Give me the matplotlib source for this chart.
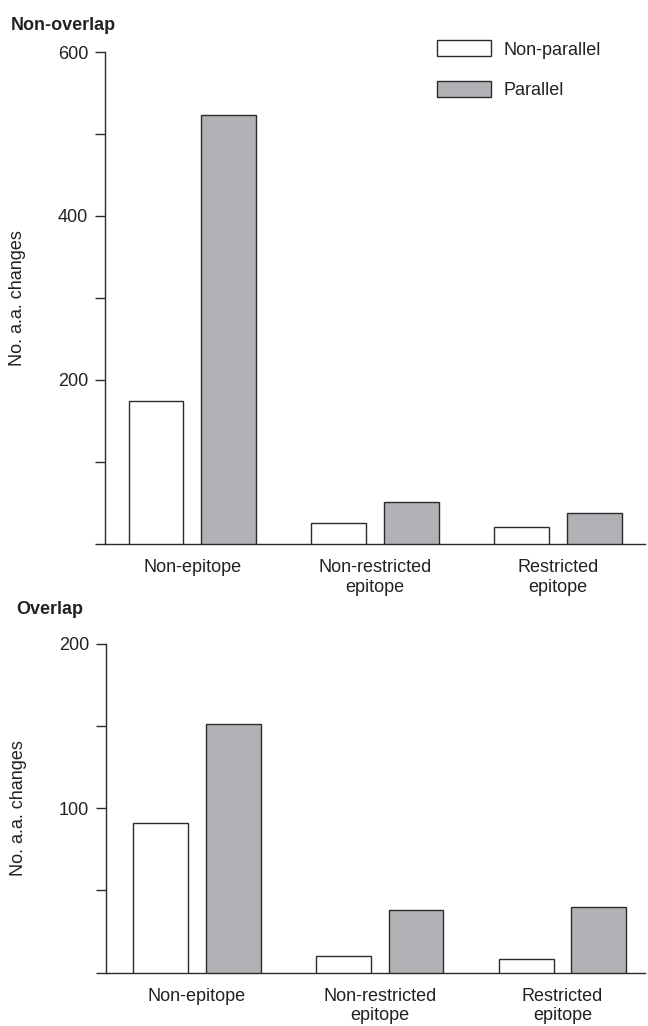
import matplotlib.pyplot as plt
import numpy as np

plt.rcParams["font.family"] = ["Liberation Sans", "DejaVu Sans"]

categories = ["Non-epitope", "Non-restricted\nepitope", "Restricted\nepitope"]
series_names = ["Non-parallel", "Parallel"]

# counts per panel: (non-parallel, parallel)
nonoverlap_nonparallel = [174, 25, 20]
nonoverlap_parallel = [523, 51, 38]
overlap_nonparallel = [91, 10, 8]
overlap_parallel = [151, 38, 40]

nonoverlap_ticks = [0, 100, 200, 300, 400, 500, 600]
nonoverlap_labels = ["", "", "200", "", "400", "", "600"]
overlap_ticks = [0, 50, 100, 150, 200]
overlap_labels = ["", "", "100", "", "200"]

EDGE = "#2b2b2b"
GREY = "#b1b2b5"
FS = 13

fig = plt.figure(figsize=(6.48, 10.26), dpi=100)
ax_top = fig.add_axes([0.162, 0.4701, 0.833, 0.4792])
ax_bot = fig.add_axes([0.163, 0.0521, 0.832, 0.3205])

x = np.arange(len(categories))
width = 0.30
offset = 0.198


def draw_panel(ax, np_vals, p_vals, ymax, ticks, labels, xlim):
    ax.bar(x - offset, np_vals, width, color="white", edgecolor=EDGE,
           linewidth=1.0, label=series_names[0], zorder=3)
    ax.bar(x + offset, p_vals, width, color=GREY, edgecolor=EDGE,
           linewidth=1.0, label=series_names[1], zorder=3)
    ax.set_ylim(0, ymax)
    ax.set_xlim(*xlim)
    ax.set_yticks(ticks)
    ax.set_yticklabels(labels)
    ax.set_xticks(x)
    ax.set_xticklabels(categories, linespacing=1.2)
    for side in ("top", "right"):
        ax.spines[side].set_visible(False)
    for side in ("left", "bottom"):
        ax.spines[side].set_color(EDGE)
        ax.spines[side].set_linewidth(1.0)
    ax.tick_params(axis="y", length=7, width=1.0, color=EDGE, pad=5,
                   labelsize=FS, labelcolor="#222222")
    ax.tick_params(axis="x", length=0, pad=11, labelsize=FS,
                   labelcolor="#222222")
    ax.set_ylabel("No. a.a. changes", fontsize=FS, color="#222222")
    ax.yaxis.set_label_coords(-0.146, 0.5)


draw_panel(ax_top, nonoverlap_nonparallel, nonoverlap_parallel, 600,
           nonoverlap_ticks, nonoverlap_labels, (-0.477, 2.474))
draw_panel(ax_bot, overlap_nonparallel, overlap_parallel, 200,
           overlap_ticks, overlap_labels, (-0.50, 2.45))

fig.text(0.016, 0.9756, "Non-overlap", fontsize=FS, fontweight="bold",
         va="center", ha="left", color="#222222")
fig.text(0.025, 0.4055, "Overlap", fontsize=FS, fontweight="bold",
         va="center", ha="left", color="#222222")

ax_top.legend(loc="upper left", bbox_to_anchor=(0.585, 1.057), frameon=False,
              fontsize=FS, handlelength=3.0, handleheight=1.0,
              labelspacing=1.25, handletextpad=0.7, labelcolor="#222222")

fig.savefig("out.png", dpi=100, facecolor="white")
